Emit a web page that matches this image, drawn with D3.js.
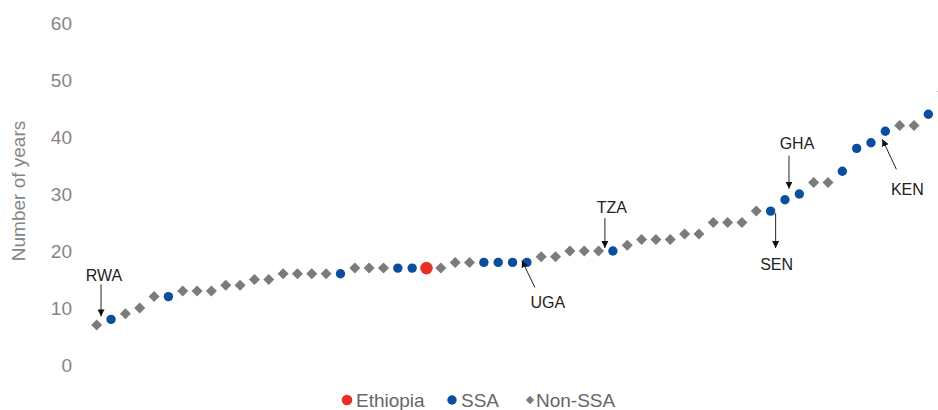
<!DOCTYPE html>
<html>
<head>
<meta charset="utf-8">
<script src="https://cdn.jsdelivr.net/npm/d3@7/dist/d3.min.js"></script>
<style>
  html, body { margin: 0; padding: 0; background: #fff; }
  svg { display: block; font-family: "Liberation Sans", Arial, sans-serif; }
</style>
</head>
<body>
<svg id="chart" width="938" height="410"></svg>
<script>
// ---- Data ----
const values = [7, 8, 9, 10, 12, 12, 13, 13, 13, 14, 14, 15, 15, 16, 16, 16, 16, 16, 17, 17,
                17, 17, 17, 17, 17, 18, 18, 18, 18, 18, 18, 19, 19, 20, 20, 20, 20, 21, 22, 22,
                22, 23, 23, 25, 25, 25, 27, 27, 29, 30, 32, 32, 34, 38, 39, 41, 42, 42, 44, 48];
const groups = ["N","S","N","N","N","S","N","N","N","N","N","N","N","N","N","N","N","S","N","N",
                "N","S","S","E","N","N","N","S","S","S","S","N","N","N","N","N","S","N","N","N",
                "N","N","N","N","N","N","N","S","S","S","N","N","S","S","S","S","N","N","S","N"];
const annotationCodes = ["RWA", "UGA", "TZA", "SEN", "GHA", "KEN"];
const annotationIndex = [1, 30, 36, 47, 48, 55];
const yTicks = [0, 10, 20, 30, 40, 50, 60];
const legendLabels = ["Ethiopia", "SSA", "Non-SSA"];
const legendGroups = ["E", "S", "N"];

// ---- Styles / layout ----
const colors = { E: "#e8302a", S: "#0a4f9e", N: "#7b7b7b" };
const svg = d3.select("#chart");

const x = d3.scalePoint().domain(d3.range(values.length)).range([96.7, 942.7]);
const y = d3.scaleLinear().domain([0, 60]).range([365, 23]);

// Y axis (labels only)
const yAxis = svg.append("g")
  .attr("transform", "translate(80,0)")
  .call(d3.axisLeft(y).tickValues(yTicks).tickSize(0).tickPadding(8));
yAxis.select(".domain").remove();
yAxis.selectAll("text")
  .attr("fill", "#858585")
  .style("font-size", "19px")
  .style("font-family", "'Liberation Sans', Arial, sans-serif");

svg.append("text")
  .attr("transform", "translate(25,191) rotate(-90)")
  .attr("text-anchor", "middle")
  .attr("fill", "#858585")
  .style("font-size", "19px")
  .text("Number of years");

// Arrow marker
svg.append("defs").append("marker")
  .attr("id", "arrow")
  .attr("viewBox", "0 0 10 10")
  .attr("refX", 10).attr("refY", 5)
  .attr("markerWidth", 7).attr("markerHeight", 7)
  .attr("markerUnits", "userSpaceOnUse")
  .attr("orient", "auto")
  .append("path").attr("d", "M0,0 L10,5 L0,10 z").attr("fill", "#111");

// Points
const pts = svg.append("g");
values.forEach((v, i) => {
  const g = groups[i];
  const cx = x(i), cy = y(v);
  if (g === "N") {
    pts.append("rect")
      .attr("x", -3.9).attr("y", -3.9).attr("width", 7.8).attr("height", 7.8)
      .attr("transform", `translate(${cx},${cy}) rotate(45)`)
      .attr("fill", colors.N);
  } else {
    pts.append("circle")
      .attr("cx", cx).attr("cy", cy)
      .attr("r", g === "E" ? 6.3 : 4.7)
      .attr("fill", colors[g]);
  }
});

// Annotations: text offset and arrow start/end relative to the point
const annLayout = {
  RWA: { tx: -7, ty: -38, x1: -10, y1: -35, x2: -10, y2: -3 },
  UGA: { tx: 21, ty: 46, x1: 8, y1: 25, x2: -5, y2: -2 },
  TZA: { tx: -1, ty: -38, x1: -8, y1: -33, x2: -8, y2: -3 },
  SEN: { tx: 6, ty: 59, x1: 5, y1: 2, x2: 5, y2: 37 },
  GHA: { tx: 12, ty: -51, x1: 4, y1: -44, x2: 4, y2: -11 },
  KEN: { tx: 22, ty: 64, x1: 11, y1: 38, x2: -3, y2: 8 }
};
const ann = svg.append("g");
annotationCodes.forEach((code, k) => {
  const i = annotationIndex[k];
  const px = x(i), py = y(values[i]);
  const L = annLayout[code];
  ann.append("line")
    .attr("x1", px + L.x1).attr("y1", py + L.y1)
    .attr("x2", px + L.x2).attr("y2", py + L.y2)
    .attr("stroke", "#222").attr("stroke-width", 1)
    .attr("marker-end", "url(#arrow)");
  ann.append("text")
    .attr("x", px + L.tx).attr("y", py + L.ty)
    .attr("text-anchor", "middle")
    .attr("fill", "#222")
    .style("font-size", "16px")
    .text(code);
});

// Legend
const legendX = [347, 452, 530];
const leg = svg.append("g");
legendLabels.forEach((lab, k) => {
  const g = legendGroups[k];
  const lx = legendX[k], ly = 400;
  if (g === "N") {
    leg.append("rect")
      .attr("x", -3).attr("y", -3).attr("width", 6).attr("height", 6)
      .attr("transform", `translate(${lx},${ly}) rotate(45)`)
      .attr("fill", colors.N);
  } else {
    leg.append("circle").attr("cx", lx).attr("cy", ly)
      .attr("r", g === "E" ? 5.3 : 4.7).attr("fill", colors[g]);
  }
  leg.append("text")
    .attr("x", lx + (g === "N" ? 6 : 9)).attr("y", ly + 7)
    .attr("fill", "#666")
    .style("font-size", "19px")
    .text(lab);
});
</script>
</body>
</html>
